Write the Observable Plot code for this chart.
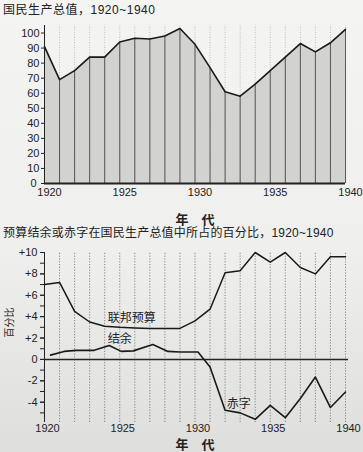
<!DOCTYPE html>
<html><head><meta charset="utf-8">
<script src="https://cdn.jsdelivr.net/npm/d3@7"></script>
<script src="https://cdn.jsdelivr.net/npm/@observablehq/plot@0.6"></script>
<style>
body{margin:0;background:#eeeeec;}
#wrap{position:relative;width:363px;height:452px;overflow:hidden;background:linear-gradient(#f4f4f2,#efefed 55%,#dededc);font-family:"Liberation Sans","Noto Sans CJK SC",sans-serif;color:#222}
.title{position:absolute;left:3px;font-size:12px;line-height:14px;white-space:nowrap}
#top{position:absolute;left:0;top:18px}
#bottom{position:absolute;left:0;top:240px}
</style></head><body>
<div id="wrap">
<div class="title" style="top:3px;letter-spacing:0.5px">国民生产总值，1920~1940</div>
<div id="top"></div>
<div class="title" style="top:226px;letter-spacing:0.2px">预算结余或赤字在国民生产总值中所占的百分比，1920~1940</div>
<div id="bottom"></div>
</div>
<script>
const years = [1920,1921,1922,1923,1924,1925,1926,1927,1928,1929,1930,1931,1932,1933,1934,1935,1936,1937,1938,1939,1940];
const gnp = [91,69,75,84,84,94,96.5,96,98,103,92.5,77,61,58,66,75,84,93,87.5,93.5,102.4];
const budget = [7.0,7.2,4.5,3.5,3.1,3.0,2.95,2.9,2.9,2.9,3.6,4.7,8.1,8.3,10.0,9.1,10.0,8.6,8.0,9.6,9.6];
const balanceYears = [1920.4,1921.3,1922.1,1923.3,1924.3,1925.1,1925.9,1927.2,1928.2,1929,1930.2,1931,1932,1933,1934,1935,1936,1937,1938,1939,1940];
const balance = [0.4,0.75,0.85,0.85,1.3,0.75,0.8,1.4,0.75,0.7,0.7,-0.7,-4.75,-5.0,-5.6,-4.3,-5.45,-3.65,-1.65,-4.5,-3.05];
const xTicks = [1920,1925,1930,1935,1940];
const gnpTicks = [10,20,30,40,50,60,70,80,90,100];
const gnpZeroTick = [0];
const pctTicks = [-4,-2,0,2,4,6,8,10];
const pctMinor = [-5,-4,-3,-2,-1,0,1,2,3,4,5,6,7,8,9,10];

const gnpData = years.map((year,i)=>({year, gnp: gnp[i]}));
const budgetData = years.map((year,i)=>({year, v: budget[i]}));
const balanceData = balanceYears.map((year,i)=>({year, v: balance[i]}));

const font = '"Liberation Sans","Noto Sans CJK SC",sans-serif';
const style = {background:"transparent", fontFamily: font, fontSize:"11px", color:"#222", overflow:"visible"};

const topPlot = Plot.plot({
  width:363, height:208, marginLeft:44, marginRight:18, marginTop:7, marginBottom:43,
  style,
  x:{domain:[1920,1940]}, y:{domain:[0,105]},
  marks:[
    Plot.areaY(gnpData,{x:"year", y:"gnp", fill:"#d2d2d0"}),
    Plot.ruleX(years.slice(1),{y1:0, y2:105, stroke:"#9a9a9a", strokeWidth:0.6, strokeDasharray:"1,1.5"}),
    Plot.ruleX(gnpData,{x:"year", y1:0, y2:"gnp", stroke:"#4a4a4a", strokeWidth:0.9}),
    Plot.line(gnpData,{x:"year", y:"gnp", stroke:"#1a1a1a", strokeWidth:1.6}),
    Plot.ruleX([1920],{y1:0, y2:105, stroke:"#222", strokeWidth:1}),
    Plot.ruleY([0],{x1:1920, x2:1940, stroke:"#222", strokeWidth:2}),
    Plot.axisY({ticks:gnpTicks, tickSize:3, tickPadding:2, label:null, fontSize:11}),
    Plot.axisY({ticks:gnpZeroTick, tickSize:3, tickPadding:5, label:null, fontSize:11}),
    Plot.axisX({ticks:xTicks, tickSize:0, tickPadding:5, dx:5, tickFormat:d=>String(d), label:null, fontSize:11}),
    Plot.text(["年　代"],{text:d=>d, frameAnchor:"bottom", dy:36, lineAnchor:"middle", fontSize:13, fontWeight:"bold"})
  ]
});
document.getElementById("top").appendChild(topPlot);

const bottomPlot = Plot.plot({
  width:363, height:212, marginLeft:44, marginRight:18, marginTop:12, marginBottom:30,
  style,
  x:{domain:[1920,1940]}, y:{domain:[-5.9,10]},
  marks:[
    Plot.ruleX(years.slice(1),{y1:-5.9, y2:10, stroke:"#6a6a6a", strokeWidth:0.8, strokeDasharray:"1.2,1.6"}),
    Plot.ruleX([1920],{y1:-5.9, y2:10, stroke:"#222", strokeWidth:1}),
    Plot.ruleY([0],{x1:1920, x2:1940.2, stroke:"#222", strokeWidth:1.5}),
    Plot.line(budgetData,{x:"year", y:"v", stroke:"#1a1a1a", strokeWidth:1.5}),
    Plot.line(balanceData,{x:"year", y:"v", stroke:"#1a1a1a", strokeWidth:1.6}),
    Plot.axisY({ticks:pctMinor, tickSize:4, tickFormat:()=>"", label:null}),
    Plot.axisY({ticks:pctTicks, tickSize:4, tickPadding:3, label:null, fontSize:11,
      tickFormat:d=> d>0 ? "+"+d : d<0 ? "-"+(-d) : "0"}),
    Plot.axisX({ticks:xTicks, tickSize:0, tickPadding:2, dx:3, tickFormat:d=>String(d), label:null, fontSize:11}),
    Plot.text(["联邦预算"],{text:d=>d, x:1925.8, y:3.83, fontSize:12}),
    Plot.text(["结余"],{text:d=>d, x:1925.0, y:1.87, fontSize:12}),
    Plot.text(["赤字"],{text:d=>d, x:1932.9, y:-4.2, fontSize:12}),
    Plot.text(["百分比"],{text:d=>d, frameAnchor:"left", y:2.05, dx:-35, rotate:-90, fontSize:10}),
    Plot.text(["年　代"],{text:d=>d, frameAnchor:"bottom", dy:22, lineAnchor:"middle", fontSize:13, fontWeight:"bold"})
  ]
});
document.getElementById("bottom").appendChild(bottomPlot);
</script>
</body></html>
